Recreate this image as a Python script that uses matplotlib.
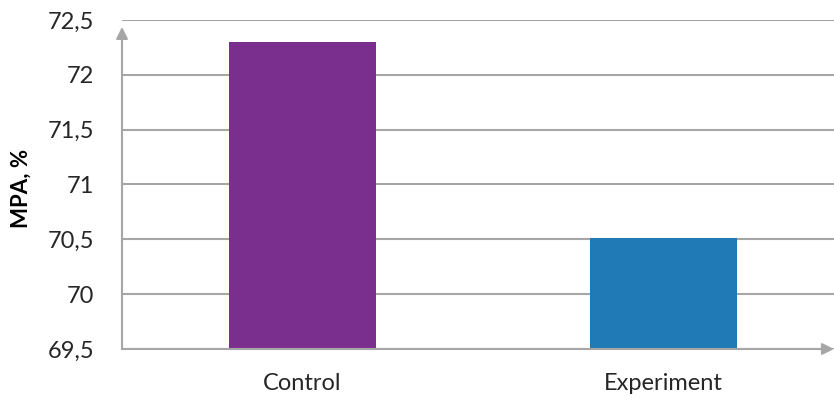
import matplotlib.pyplot as plt
from matplotlib.ticker import FuncFormatter

categories = ['Control', 'Experiment']
values = [72.3, 70.51]
colors = ['#7a2f8e', '#1f7ab5']
y_ticks = [69.5, 70, 70.5, 71, 71.5, 72, 72.5]

plt.rcParams['font.family'] = ['Lato', 'DejaVu Sans']

fig = plt.figure(figsize=(8.34, 4.03), dpi=100)
W, H = 834, 403
# axes extends a bit past the right edge, like the original export
ax = fig.add_axes([122 / W, 1 - 349 / H, (844 - 122) / W, (349 - 20) / H])

ax.bar(range(len(categories)), values, width=0.405, color=colors, zorder=3)
ax.set_xlim(-0.5, 1.5)
ax.set_ylim(69.5, 72.5)
ax.set_yticks(y_ticks)
ax.yaxis.set_major_formatter(FuncFormatter(lambda v, p: ('%g' % v).replace('.', ',')))
ax.set_xticks(range(len(categories)))
ax.set_xticklabels(categories)

grid_c = '#a6a6a6'
ax.grid(axis='y', color=grid_c, linewidth=1.5, zorder=0)
for s in ax.spines.values():
    s.set_visible(False)
ax.tick_params(length=0, labelsize=17, colors='#262626')
ax.tick_params(axis='y', pad=20)
ax.tick_params(axis='x', pad=17)

# axis arrows
ax.annotate('', xy=(0, 0.979), xytext=(0, 0), xycoords='axes fraction',
            arrowprops=dict(arrowstyle='-|>,head_length=0.7,head_width=0.35',
                            color=grid_c, lw=1.5, shrinkA=0, shrinkB=0),
            annotation_clip=False)
ax.annotate('', xy=(834 / W, 1 - 349 / H), xytext=(122 / W, 1 - 349 / H),
            xycoords='figure fraction',
            arrowprops=dict(arrowstyle='-|>,head_length=0.7,head_width=0.35',
                            color=grid_c, lw=1.5, shrinkA=0, shrinkB=0),
            annotation_clip=False)

fig.text(21 / W, 1 - 188 / H, 'MPA, %', rotation=90, ha='center', va='center',
         fontsize=16, fontweight='bold', color='#000000')

fig.savefig('out.png', dpi=100)
